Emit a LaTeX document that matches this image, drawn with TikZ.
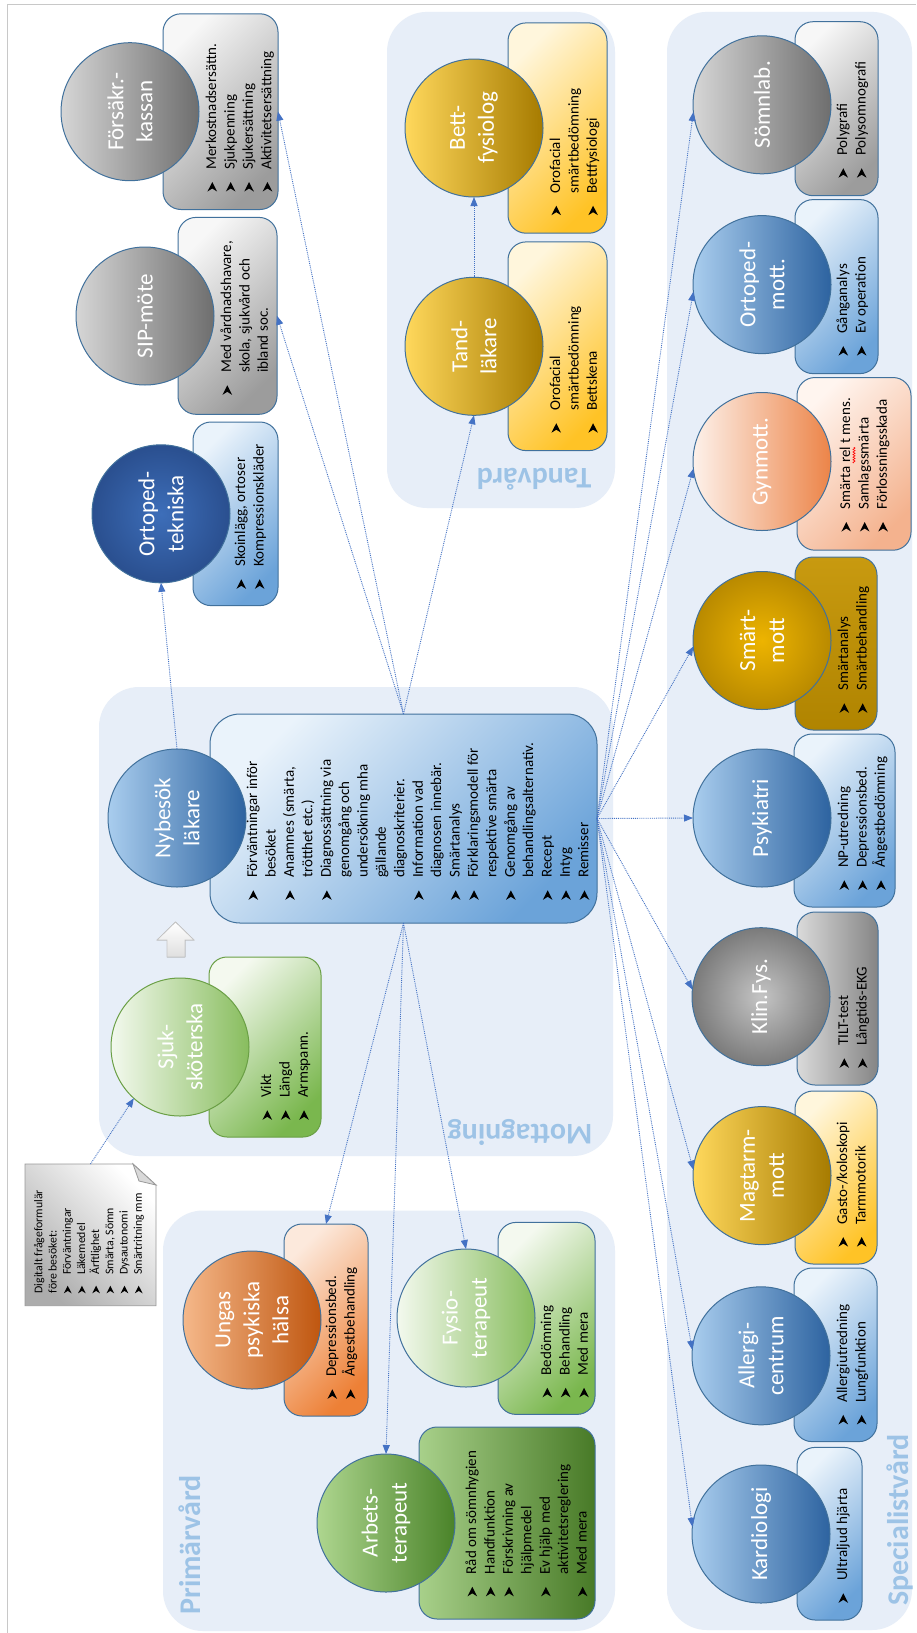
\documentclass[tikz,border=0pt]{standalone}
\usepackage{fontspec}
\setmainfont{Carlito}
\usetikzlibrary{arrows.meta,fit,decorations.pathmorphing}

% outlines, backgrounds, connectors
\definecolor{outl}{HTML}{41719C}
\definecolor{outg}{HTML}{6A9F45}
\definecolor{grpbg}{HTML}{E7EEF8}
\definecolor{grplbl}{HTML}{9DC3E6}
\definecolor{connc}{HTML}{4472C4}
\definecolor{framec}{HTML}{C8C8C8}
% fills
\definecolor{bluecL}{HTML}{A9CDEE}\definecolor{bluecD}{HTML}{2D63A0}
\definecolor{bluebL}{HTML}{EAF3FB}\definecolor{bluebD}{HTML}{6BA3D9}
\definecolor{graycL}{HTML}{D6D6D6}\definecolor{graycD}{HTML}{6E6E6E}
\definecolor{graybL}{HTML}{F7F7F7}\definecolor{graybD}{HTML}{9C9C9C}
\definecolor{goldcL}{HTML}{FFD85C}\definecolor{goldcM}{HTML}{FFC000}\definecolor{goldcD}{HTML}{A67B00}
\definecolor{goldbL}{HTML}{FFF6DC}\definecolor{goldbD}{HTML}{FFC326}
\definecolor{smartcI}{HTML}{EDB400}\definecolor{smartcO}{HTML}{B98A00}
\definecolor{smartbT}{HTML}{C89A10}\definecolor{smartbB}{HTML}{B08400}
\definecolor{gyncL}{HTML}{FDF1EA}\definecolor{gyncD}{HTML}{EC8448}
\definecolor{gynbL}{HTML}{FFF5EF}\definecolor{gynbD}{HTML}{F4B28E}
\definecolor{ungcL}{HTML}{F5B88A}\definecolor{ungcD}{HTML}{BF560F}
\definecolor{ungbL}{HTML}{FCE9DC}\definecolor{ungbD}{HTML}{ED8036}
\definecolor{grnlcL}{HTML}{F3F9EE}\definecolor{grnlcD}{HTML}{88BD5E}
\definecolor{grnlbL}{HTML}{F4F9EF}\definecolor{grnlbD}{HTML}{7AB74E}
\definecolor{grndcL}{HTML}{AED68F}\definecolor{grndcD}{HTML}{4A8329}
\definecolor{grndbL}{HTML}{A8D08A}\definecolor{grndbD}{HTML}{487A27}
\definecolor{otcI}{HTML}{3D6EB9}\definecolor{otcO}{HTML}{2A4F8F}
\definecolor{klincI}{HTML}{C4C4C4}\definecolor{klincO}{HTML}{7B7B7B}
\definecolor{klinbL}{HTML}{DADADA}\definecolor{klinbD}{HTML}{858585}

% list bullets: a notched arrowhead drawn inline
\newcommand\bulglyph[1]{\tikz[x=#1pt, y=#1pt, baseline=0pt]\fill[black] (0,-0.9) -- (9.5,3.9) -- (0,8.7) -- (3,3.9) -- cycle;}
\newcommand\bpt{\makebox[22pt][l]{\bulglyph{1}}}
\newcommand\bind{\hspace*{22pt}}
\newcommand\nbpt{\makebox[18.5pt][l]{\bulglyph{0.8}}}

\tikzset{
  grp/.style={fill=grpbg, rounded corners=40pt},
  grplabel/.style={text=grplbl, font=\fontsize{30}{36}\selectfont\bfseries, inner sep=0},
  circ/.style={circle, minimum size=138pt, inner sep=0, outer sep=0, draw=outl, line width=1pt},
  bx/.style={rectangle, rounded corners=18pt, inner sep=0, outer sep=0, draw=outl, line width=1pt},
  ctext/.style={rotate=90, align=center, text=white, font=\fontsize{23}{29}\selectfont, inner sep=0},
  ltext/.style={rotate=90, anchor=north west, align=left, font=\fontsize{15}{18.4}\selectfont, inner sep=0},
  link/.style={draw=connc, densely dotted, line width=0.9pt, -{Triangle[length=9pt,width=7pt]}},
  cs/.style 2 args={left color=#1, right color=#2},
  gs/.style={left color=goldcL, middle color=goldcM, right color=goldcD},
  bs/.style 2 args={top color=#1, bottom color=#2, shading angle=45},
}

\begin{document}
\begin{tikzpicture}[x=1pt, y=-1pt]
\useasboundingbox (0,0) rectangle (916,1633);
\fill[white] (0,0) rectangle (916,1633);
\draw[framec, line width=1pt] (7,1633) -- (7,4.7) -- (916,4.7);

% ---------- group backgrounds ----------
\fill[grp] (163,1210.5) rectangle (615,1631);
\fill[grp] (99,687) rectangle (613,1156);
\fill[grp] (387,11.9) rectangle (615,508);
\fill[grp] (667,11.9) rectangle (912,1630);

\node[grplabel, rotate=90] (lbl-prim) at (190,1545) {Primärvård};
\node[grplabel, rotate=180] (lbl-mott) at (520,1132) {Mottagning};
\node[grplabel, rotate=180] (lbl-tand) at (534,479) {Tandvård};
\node[grplabel, rotate=90] (lbl-spec) at (900,1520) {Specialistvård};

% ---------- boxes ----------
\node[bx, bs={graybL}{graybD}, fit={(163,13.8) (278,209.5)}] (fk-box) {};
\node[bx, bs={graybL}{graybD}, fit={(178,217.4) (277,414.3)}] (sip-box) {};
\node[bx, bs={bluebL}{bluebD}, fit={(193,422) (278,605.6)}] (ot-box) {};
\node[bx, bs={goldbL}{goldbD}, fit={(508,22.9) (607,233.2)}] (bett-box) {};
\node[bx, bs={goldbL}{goldbD}, fit={(508,241.9) (607,450.6)}] (tand-box) {};
\node[bx, bs={graybL}{graybD}, fit={(795,21.7) (878,195.7)}] (somn-box) {};
\node[bx, bs={bluebL}{bluebD}, fit={(795,199.6) (878,373.6)}] (om-box) {};
\node[bx, bs={gynbL}{gynbD}, fit={(797,377.5) (911,550.2)}] (gyn-box) {};
\node[bx, top color=smartbT, bottom color=smartbB, fit={(795,557) (877,730)}] (smart-box) {};
\node[bx, bs={bluebL}{bluebD}, fit={(794,734) (895,907)}] (psyk-box) {};
\node[bx, cs={klinbL}{klinbD}, fit={(797,912) (878,1085)}] (klin-box) {};
\node[bx, bs={goldbL}{goldbD}, fit={(795,1091) (877,1264)}] (mag-box) {};
\node[bx, bs={bluebL}{bluebD}, fit={(794,1268) (877,1441.6)}] (all-box) {};
\node[bx, bs={bluebL}{bluebD}, fit={(797,1447.4) (862,1620)}] (kar-box) {};
\node[bx, bs={grnlbL}{grnlbD}, fit={(498,1222.4) (595,1414.4)}] (fys-box) {};
\node[bx, cs={grndbL}{grndbD}, fit={(419,1427) (595,1619)}] (arb-box) {};
\node[bx, bs={ungbL}{ungbD}, fit={(284,1224) (368,1416)}] (ung-box) {};
\node[bx, draw=outg, bs={grnlbL}{grnlbD}, fit={(209,957) (321,1137)}] (sjuk-box) {};
\node[bx, rounded corners=30pt, bs={bluebL}{bluebD}, fit={(210,714) (597,923)}] (nyb-box) {};

% ---------- circles ----------
\node[circ, cs={graycL}{graycD}] (fk) at (130,111.7) {};
\node[circ, cs={graycL}{graycD}] (sip) at (145,316) {};
\node[circ, inner color=otcI, outer color=otcO] (ot) at (161,513.8) {};
\node[circ, gs] (bett) at (474,128) {};
\node[circ, gs] (tand) at (474,346.3) {};
\node[circ, cs={graycL}{graycD}] (somn) at (762,104.8) {};
\node[circ, cs={bluecL}{bluecD}] (om) at (762,284.6) {};
\node[circ, cs={gyncL}{gyncD}] (gyn) at (762,461.5) {};
\node[circ, inner color=smartcI, outer color=smartcO] (smart) at (762,640.5) {};
\node[circ, cs={bluecL}{bluecD}] (psyk) at (762,818) {};
\node[circ, inner color=klincI, outer color=klincO] (klin) at (761,996.7) {};
\node[circ, gs] (mag) at (762,1175.6) {};
\node[circ, cs={bluecL}{bluecD}] (all) at (761,1355.8) {};
\node[circ, cs={bluecL}{bluecD}] (kar) at (761,1534) {};
\node[circ, cs={grnlcL}{grnlcD}] (fys) at (466,1318) {};
\node[circ, cs={grndcL}{grndcD}] (arb) at (386,1523) {};
\node[circ, cs={ungcL}{ungcD}] (ung) at (252,1320) {};
\node[circ, draw=outg, cs={grnlcL}{grnlcD}] (sjuk) at (180,1047) {};
\node[circ, cs={bluecL}{bluecD}] (nyb) at (177,818) {};

% ---------- circle titles ----------
\node[ctext] (fk-t) at (fk) {Försäkr.-\\kassan};
\node[ctext] (sip-t) at (sip) {SIP-möte};
\node[ctext] (ot-t) at (ot) {Ortoped-\\tekniska};
\node[ctext] (bett-t) at (bett) {Bett-\\fysiolog};
\node[ctext] (tand-t) at (tand) {Tand-\\läkare};
\node[ctext] (somn-t) at (somn) {Sömnlab.};
\node[ctext] (om-t) at (om) {Ortoped-\\mott.};
\node[ctext] (gyn-t) at (gyn) {Gynmott.};
\node[ctext] (smart-t) at (smart) {Smärt-\\mott};
\node[ctext] (psyk-t) at (psyk) {Psykiatri};
\node[ctext] (klin-t) at (klin) {Klin.Fys.};
\node[ctext] (mag-t) at (mag) {Magtarm-\\mott};
\node[ctext] (all-t) at (all) {Allergi-\\centrum};
\node[ctext] (kar-t) at (kar) {Kardiologi};
\node[ctext] (fys-t) at (fys) {Fysio-\\terapeut};
\node[ctext] (arb-t) at (arb) {Arbets-\\terapeut};
\node[ctext] (ung-t) at (ung) {Ungas\\psykiska\\hälsa};
\node[ctext] (sjuk-t) at (sjuk) {Sjuk-\\sköterska};
\node[ctext] (nyb-t) at (nyb) {Nybesök\\läkare};

% ---------- bullet lists ----------
\node[ltext] (fk-l) at (203.1,191.7) {\strut\bpt Merkostnadsersättn.\\\bpt Sjukpenning\\\bpt Sjukersättning\\\bpt Aktivitetsersättning};
\node[ltext] (sip-l) at (218.1,395) {\strut\bpt Med vårdnadshavare,\\\bind skola, sjukvård och\\\bind ibland soc.};
\node[ltext] (ot-l) at (232.1,589) {\strut\bpt Skoinlägg, ortoser\\\bpt Kompressionskläder};
\node[ltext] (bett-l) at (547.1,215.4) {\strut\bpt Orofacial\\\bind smärtbedömning\\\bpt Bettfysiologi};
\node[ltext] (tand-l) at (547.1,432.9) {\strut\bpt Orofacial\\\bind smärtbedömning\\\bpt Bettskena};
\node[ltext] (somn-l) at (834.1,177.9) {\strut\bpt Polygrafi\\\bpt Polysomnografi};
\node[ltext] (om-l) at (834.1,355.8) {\strut\bpt Gånganalys\\\bpt Ev operation};
\node[ltext] (gyn-l) at (837.1,531.7) {\strut\bpt Smärta rel t mens.\\\bpt Samlagssmärta\\\bpt Förlossningsskada};
\node[ltext] (smart-l) at (835.1,713) {\strut\bpt Smärtanalys\\\bpt Smärtbehandling};
\node[ltext] (psyk-l) at (835.1,890) {\strut\bpt NP-utredning\\\bpt Depressionsbed.\\\bpt Ångestbedömning};
\node[ltext] (klin-l) at (835.1,1068) {\strut\bpt TILT-test\\\bpt Långtids-EKG};
\node[ltext] (mag-l) at (834.1,1246.8) {\strut\bpt Gasto-/koloskopi\\\bpt Tarmmotorik};
\node[ltext] (all-l) at (834.1,1424.6) {\strut\bpt Allergiutredning\\\bpt Lungfunktion};
\node[ltext] (kar-l) at (834.1,1603) {\strut\bpt Ultraljud hjärta};
\node[ltext] (fys-l) at (538.1,1397.5) {\strut\bpt Bedömning\\\bpt Behandling\\\bpt Med mera};
\node[ltext] (arb-l) at (463.1,1596.5) {\strut\bpt Råd om sömnhygien\\\bpt Handfunktion\\\bpt Förskrivning av\\\bind hjälpmedel\\\bpt Ev hjälp med\\\bind aktivitetsreglering\\\bpt Med mera};
\node[ltext] (ung-l) at (323.1,1399) {\strut\bpt Depressionsbed.\\\bpt Ångestbehandling};
\node[ltext] (sjuk-l) at (258.1,1120) {\strut\bpt Vikt\\\bpt Längd\\\bpt Armspann.};
\node[ltext] (nyb-l) at (244.1,900) {\strut\bpt Förväntningar inför\\\bind besöket\\\bpt Anamnes (smärta,\\\bind trötthet etc.)\\\bpt Diagnossättning via\\\bind genomgång och\\\bind undersökning mha\\\bind gällande\\\bind diagnoskriterier.\\\bpt Information vad\\\bind diagnosen innebär.\\\bpt Smärtanalys\\\bpt Förklaringsmodell för\\\bind respektive smärta\\\bpt Genomgång av\\\bind behandlingsalternativ.\\\bpt Recept\\\bpt Intyg\\\bpt Remisser};

% spell-check mark under "rel"
\draw[red, line width=0.6pt, decorate, decoration={zigzag, amplitude=1.1pt, segment length=2.6pt}] (854,463) -- (854,447);

% ---------- questionnaire note with folded corner ----------
\path[draw=gray!80, line width=0.8pt, top color=white, bottom color=gray!65, shading angle=-45]
  (25,1164) -- (133,1164) -- (156,1185) -- (156,1305.7) -- (25,1305.7) -- cycle;
\filldraw[draw=gray!80, line width=0.8pt, fill=gray!30] (133,1164) -- (156,1185) -- (139,1181) -- cycle;
\node[rotate=90, anchor=north west, align=left, font=\fontsize{11.8}{14.2}\selectfont, inner sep=0] (note)
  at (32.3,1293.5) {\strut Digitalt frågeformulär\\före besöket:\\\nbpt Förväntningar\\\nbpt Läkemedel\\\nbpt Ärftlighet\\\nbpt Smärta, Sömn\\\nbpt Dysautonomi\\\nbpt Smärtritning mm};
\coordinate (note-top) at (90.5,1164);

% ---------- step arrow nurse -> doctor ----------
\filldraw[draw=gray!45, line width=0.8pt, top color=white, bottom color=gray!25]
  (175.5,922) -- (194,940) -- (185,940) -- (185,957) -- (167,957) -- (167,940) -- (157,940) -- cycle;

% ---------- referrals ----------
\draw[link] (note-top) -- (sjuk.228);
\draw[link] (nyb.north) -- (ot.south);
\draw[link] (nyb-box.north) -- (fk-box.east);
\draw[link] (nyb-box.north) -- (sip-box.east);
\draw[link] (nyb-box.north) -- (tand.south);
\draw[link] (tand.north) -- (bett.south);
\draw[link] (nyb-box.south) -- (ung-box.north);
\draw[link] (nyb-box.south) -- (arb.north);
\draw[link] (nyb-box.south) -- (fys.north);
\draw[link] (nyb-box.east) -- (somn.186);
\draw[link] (nyb-box.east) -- (om.186);
\draw[link] (nyb-box.east) -- (gyn.186);
\draw[link] (nyb-box.east) -- (smart.185);
\draw[link] (nyb-box.east) -- (psyk.west);
\draw[link] (nyb-box.east) -- (klin.174);
\draw[link] (nyb-box.east) -- (mag.175);
\draw[link] (nyb-box.east) -- (all.175);
\draw[link] (nyb-box.east) -- (kar.174);
\end{tikzpicture}
\end{document}
